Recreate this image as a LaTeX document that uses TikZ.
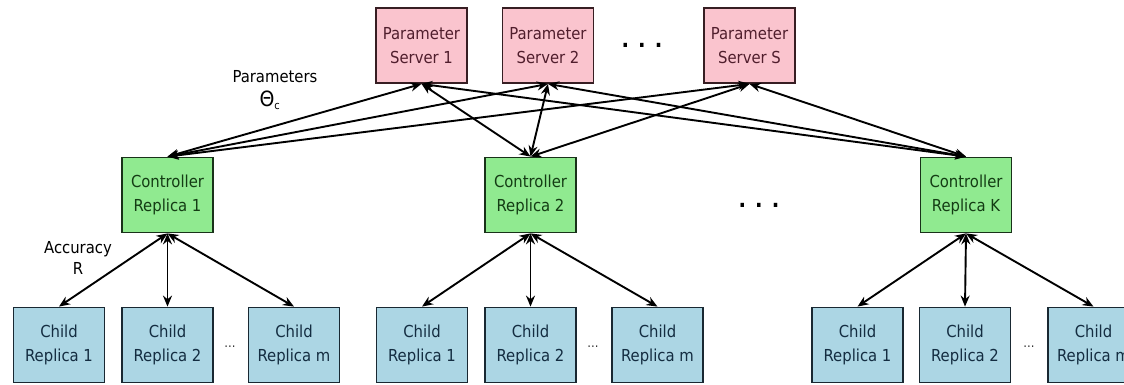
\documentclass[tikz,border=0pt]{standalone}
\usepackage{fontspec}
\setmainfont{DejaVu Sans Condensed}
\usepackage{xcolor}
\usetikzlibrary{arrows.meta}
\definecolor{psfill}{RGB}{250,196,206}
\definecolor{psline}{RGB}{55,30,35}
\definecolor{pstext}{RGB}{80,30,45}
\definecolor{ctrlfill}{RGB}{144,234,144}
\definecolor{ctrlline}{RGB}{25,50,25}
\definecolor{ctrltext}{RGB}{20,60,20}
\definecolor{childfill}{RGB}{172,214,228}
\definecolor{childline}{RGB}{25,40,50}
\definecolor{childtext}{RGB}{20,45,65}

\begin{document}
\begin{tikzpicture}[x=1pt, y=-1pt,
  box/.style={draw, line width=1.8pt, minimum width=91pt, minimum height=75pt, inner sep=0pt, align=center, font=\fontsize{16.5}{24}\selectfont},
  psbox/.style={box, fill=psfill, draw=psline, text=pstext},
  ctrlbox/.style={box, fill=ctrlfill, draw=ctrlline, text=ctrltext},
  childbox/.style={box, fill=childfill, draw=childline, text=childtext},
  bigdots/.style={font=\bfseries\fontsize{22}{22}\selectfont},
  smalldots/.style={font=\fontsize{13}{13}\selectfont, text=black!80},
  link/.style={{Stealth[length=11pt,width=9pt]}-{Stealth[length=11pt,width=9pt]}, line width=1.9pt},
  every node/.style={font=\fontsize{16.5}{21}\selectfont}
]
\useasboundingbox (0,0) rectangle (1124,384);

% parameter servers
\node[psbox] (ps1) at (421.5,45.5) {Parameter\\Server 1};
\node[psbox] (ps2) at (548,45.5) {Parameter\\Server 2};
\node[psbox] (pss) at (749.5,45.5) {Parameter\\Server S};
\node[bigdots] (psdots) at (642,45) {. . .};

% controllers
\node[ctrlbox] (ctrl1) at (167.5,195) {Controller\\Replica 1};
\node[ctrlbox] (ctrl2) at (530.5,195) {Controller\\Replica 2};
\node[ctrlbox] (ctrlk) at (966,195) {Controller\\Replica K};
\node[bigdots] (ctrldots) at (759,205) {. . .};

% children
\node[childbox] (c11) at (59,345) {Child\\Replica 1};
\node[childbox] (c12) at (167.5,345) {Child\\Replica 2};
\node[childbox] (c1m) at (294,345) {Child\\Replica m};
\node[smalldots] (dots1) at (230,347) {...};

\node[childbox] (c21) at (422,345) {Child\\Replica 1};
\node[childbox] (c22) at (530.5,345) {Child\\Replica 2};
\node[childbox] (c2m) at (657.5,345) {Child\\Replica m};
\node[smalldots] (dots2) at (593,347) {...};

\node[childbox] (ck1) at (857.5,345) {Child\\Replica 1};
\node[childbox] (ck2) at (965,345) {Child\\Replica 2};
\node[childbox] (ckm) at (1093.5,345) {Child\\Replica m};
\node[smalldots] (dotsk) at (1029,347) {...};

% labels
\node (params) at (275,77) {Parameters};
\node[font=\fontsize{21}{21}\selectfont] (theta) at (270,100) {Θ\textsubscript{\fontsize{11}{11}\selectfont c}};
\node[align=center] (acc) at (78,257.5) {Accuracy\\R};

% servers <-> controllers
\draw[link] (ps1.south) -- (ctrl1.north);
\draw[link] (ps1.south) -- (ctrl2.north);
\draw[link] (ps1.south) -- (ctrlk.north);
\draw[link] (ps2.south) -- (ctrl1.north);
\draw[link] (ps2.south) -- (ctrl2.north);
\draw[link] (ps2.south) -- (ctrlk.north);
\draw[link] (pss.south) -- (ctrl1.north);
\draw[link] (pss.south) -- (ctrl2.north);
\draw[link] (pss.south) -- (ctrlk.north);

% controllers <-> children
\draw[link] (ctrl1.south) -- (c11.north);
\draw[link] (ctrl1.south) -- (c12.north);
\draw[link] (ctrl1.south) -- (c1m.north);
\draw[link] (ctrl2.south) -- (c21.north);
\draw[link] (ctrl2.south) -- (c22.north);
\draw[link] (ctrl2.south) -- (c2m.north);
\draw[link] (ctrlk.south) -- (ck1.north);
\draw[link] (ctrlk.south) -- (ck2.north);
\draw[link] (ctrlk.south) -- (ckm.north);

\end{tikzpicture}
\end{document}
